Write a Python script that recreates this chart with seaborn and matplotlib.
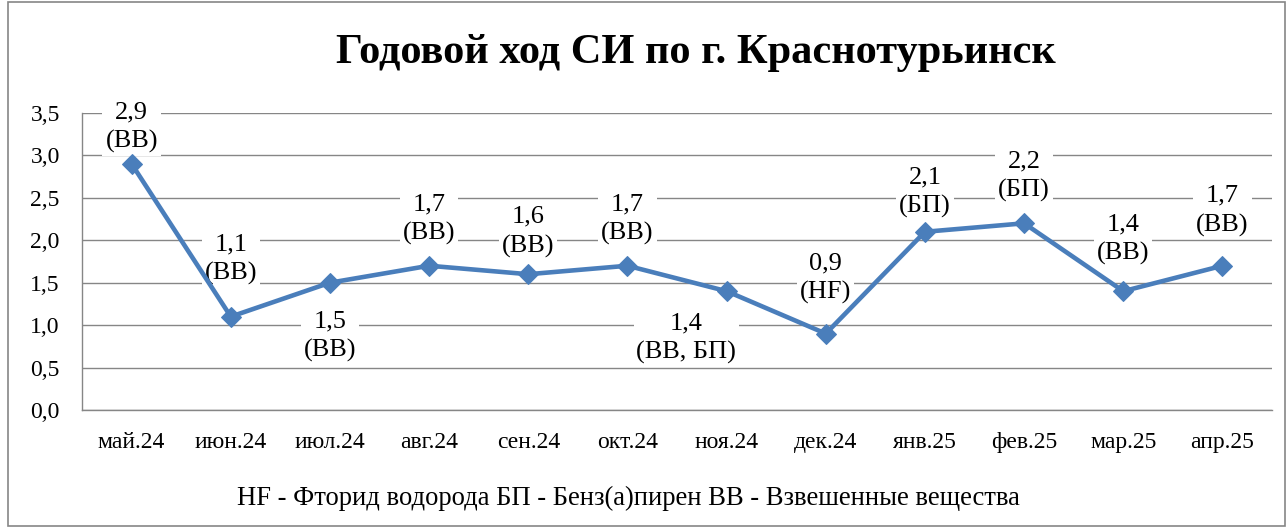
import pandas as pd
import numpy as np
import seaborn as sns
import matplotlib.pyplot as plt
from matplotlib.patches import Rectangle

months = ["май.24", "июн.24", "июл.24", "авг.24", "сен.24", "окт.24",
          "ноя.24", "дек.24", "янв.25", "фев.25", "мар.25", "апр.25"]
si = [2.9, 1.1, 1.5, 1.7, 1.6, 1.7, 1.4, 0.9, 2.1, 2.2, 1.4, 1.7]
subst = ["ВВ", "ВВ", "ВВ", "ВВ", "ВВ", "ВВ", "ВВ, БП", "HF", "БП", "БП", "ВВ", "ВВ"]

df = pd.DataFrame({"month": months, "si": si, "subst": subst})

sns.set_style("white")
plt.rcParams['font.family'] = ['Liberation Serif', 'DejaVu Serif']
plt.rcParams['text.color'] = 'black'
plt.rcParams['xtick.color'] = 'black'
plt.rcParams['ytick.color'] = 'black'
line_color = "#4A7EBB"
grey = "#868686"

fig = plt.figure(figsize=(12.88, 5.28), dpi=100)
ax = fig.add_axes([0.0637, 0.2235, 0.9239, 0.5625])

sns.lineplot(data=df, x="month", y="si", ax=ax, color=line_color, linewidth=3.3,
             marker="D", markersize=10, markeredgecolor=line_color, sort=False,
             zorder=3)

ax.set_xlim(-0.5, 11.5)
ax.set_ylim(0, 3.5)
ax.set_yticks(np.arange(0, 3.51, 0.5))
ax.set_yticklabels([f"{v:.1f}".replace(".", ",") for v in np.arange(0, 3.51, 0.5)])
ax.yaxis.grid(True, color=grey, linewidth=1)
ax.set_axisbelow(True)
ax.set_xlabel("")
ax.set_ylabel("")

for s in ["top", "right"]:
    ax.spines[s].set_visible(False)
for s in ["left", "bottom"]:
    ax.spines[s].set_color(grey)
    ax.spines[s].set_linewidth(1)

ax.tick_params(axis="y", length=5, color=grey, labelcolor="black", width=1,
               labelsize=17, pad=11)
ax.tick_params(axis="x", which="major", length=0, labelcolor="black", labelsize=17, pad=16)
ax.set_xticks(np.arange(-0.5, 12, 1), minor=True)
ax.tick_params(axis="x", which="minor", length=5, color=grey, width=1)

# label offsets (points) as Excel placed them
above = {0: 8, 1: 23, 3: 15, 4: 12, 5: 15, 7: 21, 8: 10, 9: 15, 10: 19, 11: 21}
below = {2: (0, -20), 6: (-29, -15)}
for i, (v, s) in enumerate(zip(si, subst)):
    txt = f"{v:.1f}".replace(".", ",") + f"\n({s})"
    if i in below:
        off, va = below[i], "top"
    else:
        off, va = (0, above[i]), "bottom"
    ax.annotate(txt, (i, v), xytext=off, textcoords="offset points",
                ha="center", va=va, fontsize=19, linespacing=1.37, zorder=1.5,
                color="black",
                bbox=dict(facecolor="white", edgecolor="none", pad=2))

fig.text(0.54, 0.90, "Годовой ход СИ по г. Краснотурьинск", ha="center", va="center",
         fontsize=30.5, fontweight="bold", color="black")
fig.text(0.488, 0.056, "HF - Фторид водорода БП - Бенз(а)пирен ВВ - Взвешенные вещества",
         ha="center", va="center", fontsize=19.2, color="black")

fig.patches.append(Rectangle((0.006, 0.004), 0.992, 0.992, transform=fig.transFigure,
                             fill=False, edgecolor=grey, linewidth=1.2))

fig.savefig("out.png", dpi=100)
